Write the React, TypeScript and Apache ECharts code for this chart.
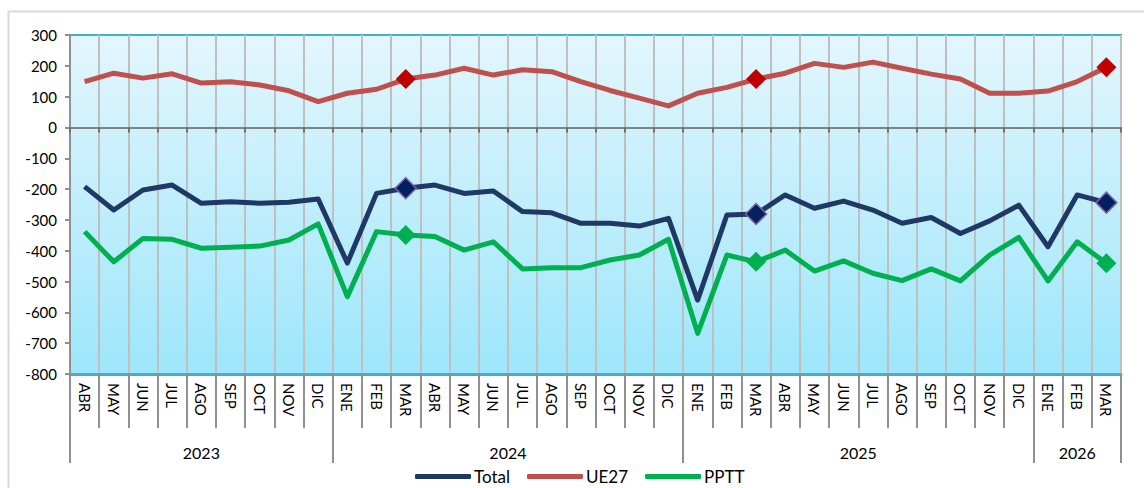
import React, { useEffect, useRef } from "react";
import * as echarts from "echarts";

const months = [
  "ABR", "MAY", "JUN", "JUL", "AGO", "SEP", "OCT", "NOV", "DIC",
  "ENE", "FEB", "MAR", "ABR", "MAY", "JUN", "JUL", "AGO", "SEP", "OCT", "NOV", "DIC",
  "ENE", "FEB", "MAR", "ABR", "MAY", "JUN", "JUL", "AGO", "SEP", "OCT", "NOV", "DIC",
  "ENE", "FEB", "MAR",
];
const years = ["2023", "2024", "2025", "2026"];
const yearCounts = [9, 12, 12, 3];

const total = [
  -192, -268, -203, -187, -246, -241, -246, -243, -232, -440, -214, -197,
  -187, -214, -206, -273, -277, -311, -311, -320, -295, -560, -284, -281,
  -219, -262, -239, -268, -311, -292, -344, -303, -252, -387, -219, -244,
];
const ue27 = [
  149, 176, 160, 174, 144, 148, 138, 119, 84, 111, 124, 157,
  170, 192, 170, 187, 181, 149, 120, 95, 70, 111, 130, 157,
  176, 208, 195, 212, 192, 173, 157, 111, 111, 118, 149, 195,
];
const pptt = [
  -338, -436, -360, -363, -392, -389, -385, -365, -313, -549, -338, -349,
  -354, -398, -371, -459, -455, -455, -430, -414, -363, -668, -414, -436,
  -398, -466, -433, -473, -497, -459, -498, -414, -357, -498, -371, -441,
];
const markedIdx = [11, 23, 35];

export default function App() {
  const ref = useRef<HTMLDivElement>(null);
  useEffect(() => {
    if (!ref.current) return;
    const chart = echarts.init(ref.current, undefined, { renderer: "svg" });

    const bounds: number[] = [0];
    const centers: number[] = [];
    let acc = 0;
    yearCounts.forEach((c) => {
      centers.push(acc + c / 2);
      acc += c;
      bounds.push(acc);
    });

    const mk = (
      vals: number[],
      fill: string,
      border: string,
      bw: number,
      size: number
    ) =>
      vals.map((v, i) =>
        markedIdx.includes(i)
          ? {
              value: v,
              symbol: "diamond",
              symbolSize: size,
              itemStyle: { color: fill, borderColor: border, borderWidth: bw },
            }
          : { value: v, symbol: "none" }
      );

    const font = "Lato, 'Liberation Sans', sans-serif";

    chart.setOption({
      animation: false,
      textStyle: { fontFamily: font },
      graphic: [
        {
          type: "rect",
          left: 6,
          top: 9,
          shape: { width: 1200, height: 600 },
          style: { fill: "none", stroke: "#d9d9d9", lineWidth: 2 },
          z: -10,
          silent: true,
        },
      ],
      grid: {
        left: 70,
        top: 35,
        width: 1051,
        height: 339,
        show: true,
        borderColor: "#4bacc6",
        borderWidth: 2,
        backgroundColor: new echarts.graphic.LinearGradient(0, 0, 0, 1, [
          { offset: 0, color: "#e3f6fd" },
          { offset: 1, color: "#9de6fb" },
        ]),
      },
      legend: {
        data: ["Total", "UE27", "PPTT"],
        top: 463,
        left: 410,
        icon: "roundRect",
        itemWidth: 56,
        itemHeight: 5,
        itemGap: 17,
        textStyle: { fontSize: 17, color: "#000", fontFamily: font, padding: [0, 0, 0, -2] },
      },
      xAxis: [
        {
          type: "category",
          data: months,
          position: "bottom",
          boundaryGap: true,
          axisLine: { onZero: true, lineStyle: { color: "#808080", width: 2 } },
          axisTick: { show: true, interval: 0, length: 5, lineStyle: { color: "#707070", width: 2 } },
          axisLabel: { show: false },
          splitLine: { show: true, interval: 0, lineStyle: { color: "#bfbfbf", width: 2 } },
        },
        {
          type: "category",
          data: months,
          position: "bottom",
          boundaryGap: true,
          axisLine: { onZero: false, lineStyle: { color: "#4bacc6", width: 3 } },
          axisTick: { show: true, interval: 0, length: 54, lineStyle: { color: "#909090", width: 2 } },
          axisLabel: {
            interval: 0,
            rotate: -90,
            margin: 9,
            fontSize: 15,
            color: "#000",
            fontFamily: font,
          },
          splitLine: { show: false },
        },
        {
          type: "value",
          min: 0,
          max: 36,
          position: "bottom",
          axisLine: { show: false, onZero: false },
          axisTick: {
            show: true,
            customValues: bounds,
            length: 89,
            lineStyle: { color: "#909090", width: 2 },
          },
          axisLabel: {
            show: true,
            customValues: centers,
            margin: 70,
            fontSize: 16,
            color: "#000",
            fontFamily: font,
            formatter: (v: number) => {
              const i = centers.findIndex((c) => Math.abs(c - v) < 0.01);
              return i >= 0 ? years[i] : "";
            },
          },
          splitLine: { show: false },
        },
      ],
      yAxis: {
        type: "value",
        min: -800,
        max: 300,
        interval: 100,
        axisLine: { show: true, onZero: false, lineStyle: { color: "#909090", width: 2 } },
        axisTick: { show: true, length: 5, lineStyle: { color: "#909090", width: 2 } },
        axisLabel: { fontSize: 15, color: "#000", margin: 13, fontFamily: font },
        splitLine: { show: false },
      },
      series: [
        {
          name: "Total",
          type: "line",
          xAxisIndex: 1,
          data: mk(total, "#002060", "#8064a2", 1.5, 21),
          showAllSymbol: true,
          lineStyle: { color: "#1f3864", width: 5, join: "round" },
          itemStyle: { color: "#1f3864" },
          z: 3,
        },
        {
          name: "UE27",
          type: "line",
          xAxisIndex: 1,
          data: mk(ue27, "#c00000", "#c00000", 0, 20),
          showAllSymbol: true,
          lineStyle: { color: "#c0504d", width: 5, join: "round" },
          itemStyle: { color: "#c0504d" },
          z: 3,
        },
        {
          name: "PPTT",
          type: "line",
          xAxisIndex: 1,
          data: mk(pptt, "#00b050", "#00b050", 0, 20),
          showAllSymbol: true,
          lineStyle: { color: "#00b050", width: 5, join: "round" },
          itemStyle: { color: "#00b050" },
          z: 3,
        },
      ],
    });
    return () => chart.dispose();
  }, []);
  return (
    <div
      ref={ref}
      style={{ position: "fixed", left: 0, top: 0, width: 1144, height: 488, background: "#fff" }}
    />
  );
}
